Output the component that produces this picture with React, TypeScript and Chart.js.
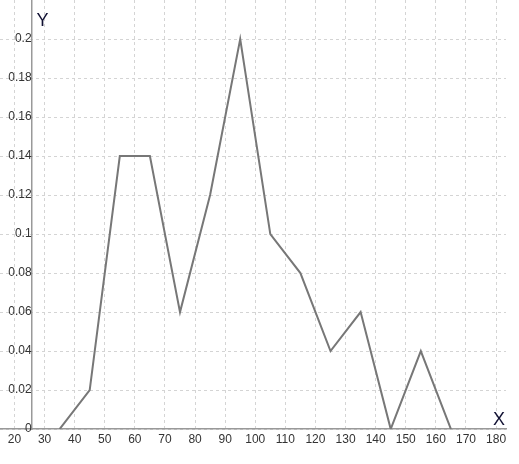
import React, { useEffect, useRef } from "react";
import { Chart, registerables } from "chart.js";

Chart.register(...registerables);

const xValues = [35, 45, 55, 65, 75, 85, 95, 105, 115, 125, 135, 145, 155, 165];
const yValues = [0, 0.02, 0.14, 0.14, 0.06, 0.12, 0.2, 0.1, 0.08, 0.04, 0.06, 0, 0.04, 0];
const xTicks = [20, 30, 40, 50, 60, 70, 80, 90, 100, 110, 120, 130, 140, 150, 160, 170, 180];
const yTicks = [0, 0.02, 0.04, 0.06, 0.08, 0.1, 0.12, 0.14, 0.16, 0.18, 0.2];
const yTickLabels = ["0", "0.02", "0.04", "0.06", "0.08", "0.1", "0.12", "0.14", "0.16", "0.18", "0.2"];
const X_MIN = 15.2;
const X_MAX = 183.3;
const Y_MIN = 0;
const Y_MAX = 0.22;
const Y_AXIS_AT = 25.7;

const FONT = "'Liberation Sans', Arial, sans-serif";

const axisTitles = {
  id: "axisTitles",
  afterDraw(chart: any) {
    const { ctx, chartArea, scales } = chart;
    const ax = scales.x.getPixelForValue(Y_AXIS_AT);
    ctx.save();
    ctx.fillStyle = "#111133";
    ctx.font = `18px ${FONT}`;
    ctx.textAlign = "left";
    ctx.textBaseline = "alphabetic";
    ctx.fillText("Y", ax + 5, chartArea.top + 26);
    ctx.textAlign = "right";
    ctx.fillText("X", chartArea.right - 1, chartArea.bottom - 4);
    ctx.restore();
  },
};

export default function App() {
  const ref = useRef<HTMLCanvasElement>(null);
  useEffect(() => {
    document.body.style.margin = "0";
    const chart = new Chart(ref.current!, {
      type: "line",
      data: {
        datasets: [
          {
            data: xValues.map((x, i) => ({ x, y: yValues[i] })),
            borderColor: "#777777",
            borderWidth: 2,
            pointRadius: 0,
            tension: 0,
            fill: false,
          },
        ],
      },
      options: {
        animation: false,
        responsive: true,
        maintainAspectRatio: false,
        layout: { padding: { left: 0, right: 13, top: 0, bottom: 14.5 } },
        plugins: { legend: { display: false }, tooltip: { enabled: false } },
        scales: {
          x: {
            type: "linear",
            min: X_MIN,
            max: X_MAX,
            afterBuildTicks: (s: any) => {
              s.ticks = xTicks.map((v) => ({ value: v }));
            },
            afterFit: (s: any) => {
              s.paddingLeft = 0;
              s.paddingRight = 0;
            },
            ticks: {
              color: "#333",
              font: { family: FONT, size: 12 },
              padding: 3,
              maxRotation: 0,
              autoSkip: false,
            },
            grid: { color: "#d4d4d4", lineWidth: 1, drawTicks: false },
            border: { display: true, color: "#999", width: 1.5, dash: [3, 3] },
          },
          y: {
            type: "linear",
            position: { x: Y_AXIS_AT } as any,
            min: Y_MIN,
            max: Y_MAX,
            afterBuildTicks: (s: any) => {
              s.ticks = yTicks.map((v) => ({ value: v }));
            },
            afterFit: (s: any) => {
              s.paddingTop = 0;
              s.paddingBottom = 0;
            },
            ticks: {
              color: "#333",
              font: { family: FONT, size: 12 },
              padding: 5,
              autoSkip: false,
              callback: (_v: any, i: number) => yTickLabels[i],
            },
            grid: { color: "#d4d4d4", lineWidth: 1, drawTicks: false },
            border: { display: true, color: "#999", width: 1.5, dash: [3, 3] },
          },
        },
      },
      plugins: [axisTitles],
    });
    return () => chart.destroy();
  }, []);
  return (
    <div style={{ position: "fixed", left: 0, top: 0, width: 519, height: 464 }}>
      <canvas ref={ref} />
    </div>
  );
}
